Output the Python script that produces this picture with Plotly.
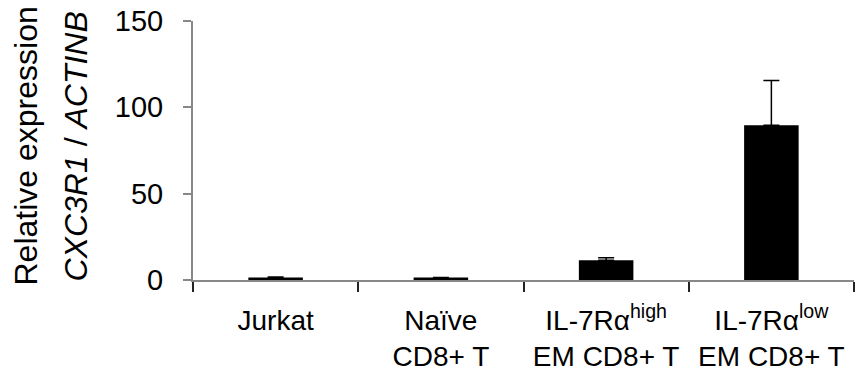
import plotly.graph_objects as go

categories = ["Jurkat", "Naïve<br>CD8+ T", "IL-7Rα<sup>high</sup><br>EM CD8+ T", "IL-7Rα<sup>low</sup><br>EM CD8+ T"]
values = [1.5, 1.4, 11.4, 89.6]
errors = [0.2, 0.1, 1.5, 26.0]
y_ticks = [0, 50, 100, 150]

FONT = "Liberation Sans, Arial, sans-serif"

fig = go.Figure()
fig.add_trace(go.Bar(
    x=categories, y=values,
    marker=dict(color="black", line=dict(width=0)),
    width=0.33,
    error_y=dict(type="data", array=errors, symmetric=False, arrayminus=[0]*4,
                 color="black", thickness=1.5, width=8, visible=True),
))

fig.update_layout(
    width=865, height=375,
    margin=dict(l=193, r=11, t=21, b=95, autoexpand=False),
    plot_bgcolor="white", paper_bgcolor="white",
    showlegend=False,
    font=dict(family=FONT, size=28, color="black"),
    xaxis=dict(
        type="category", tickson="boundaries", ticks="outside", ticklen=10,
        tickcolor="#222", tickwidth=1.5,
        showline=True, linecolor="#888", linewidth=2,
        showgrid=False, tickfont=dict(size=28, family=FONT),
        range=[-0.5, 3.5], automargin=False,
        ticklabelstandoff=14, ticklabeloverflow="allow",
    ),
    yaxis=dict(
        range=[0, 150], tickvals=y_ticks, ticks="outside", ticklen=8,
        tickcolor="#888", tickwidth=1.5,
        showline=True, linecolor="#888", linewidth=2,
        showgrid=False, zeroline=False, automargin=False,
        tickfont=dict(size=29, family=FONT),
        ticklabelstandoff=14, ticklabeloverflow="allow",
    ),
)

fig.add_annotation(text="Relative expression", xref="paper", yref="paper",
                   x=0, y=0.5, xanchor="center", yanchor="middle",
                   xshift=-168, yshift=4, textangle=-90, showarrow=False,
                   font=dict(size=32, family=FONT))
fig.add_annotation(text="<i>CXC3R1</i> / <i>ACTINB</i>", xref="paper", yref="paper",
                   x=0, y=0.5, xanchor="center", yanchor="middle",
                   xshift=-118, yshift=4, textangle=-90, showarrow=False,
                   font=dict(size=32, family=FONT))

fig.write_html("out.html",
               config={"displayModeBar": False},
               post_script="document.body.style.margin='0';document.body.style.padding='0';")
